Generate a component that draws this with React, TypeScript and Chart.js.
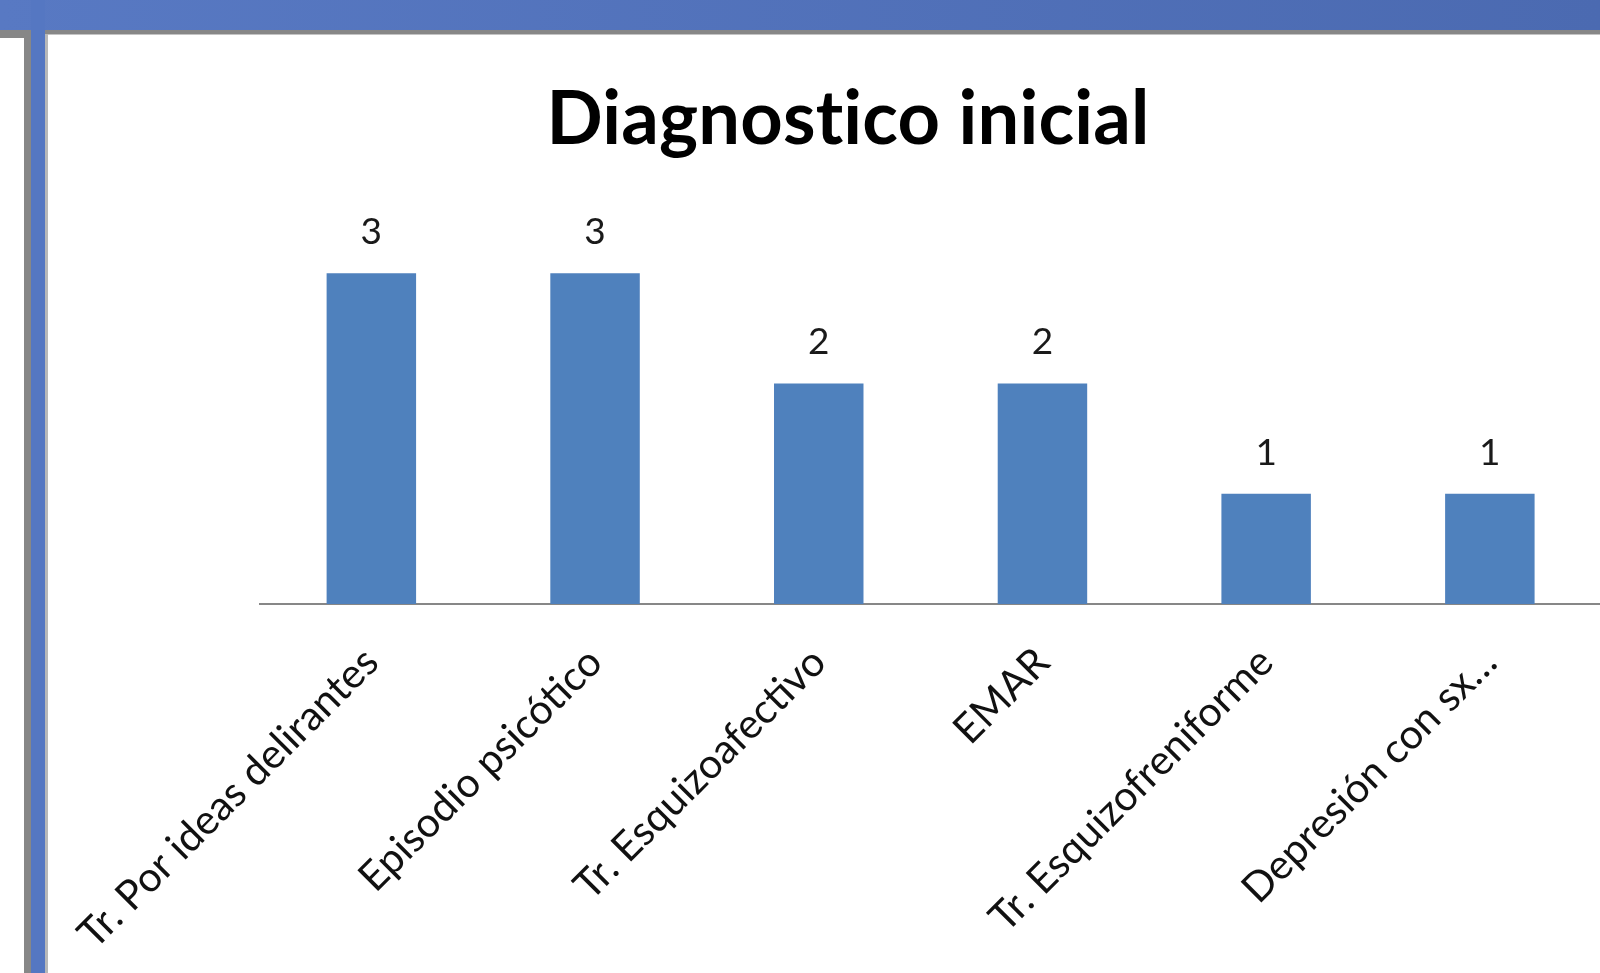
import React, { useEffect, useRef } from "react";
import { Chart, registerables } from "chart.js";

Chart.register(...registerables);

const categories: string[] = [
  "Tr. Por ideas delirantes",
  "Episodio psicótico",
  "Tr. Esquizoafectivo",
  "EMAR",
  "Tr. Esquizofreniforme",
  "Depresión con sx…",
];
const values: number[] = [3, 3, 2, 2, 1, 1];
const chartTitle = "Diagnostico inicial";

const dataLabelPlugin = {
  id: "dataLabels",
  afterDatasetsDraw(chart: any) {
    const ctx = chart.ctx;
    const meta = chart.getDatasetMeta(0);
    ctx.save();
    ctx.font = "37px Lato";
    ctx.fillStyle = "#1a1a1a";
    ctx.textAlign = "center";
    ctx.textBaseline = "alphabetic";
    meta.data.forEach((bar: any, i: number) => {
      ctx.fillText(String(chart.data.datasets[0].data[i]), bar.x, bar.y - 29);
    });
    ctx.restore();
  },
};

const titlePlugin = {
  id: "centeredTitle",
  afterDraw(chart: any) {
    const ctx = chart.ctx;
    ctx.save();
    ctx.font = "bold 74px Lato";
    ctx.fillStyle = "#000";
    ctx.textAlign = "center";
    ctx.textBaseline = "alphabetic";
    try {
      (ctx as any).letterSpacing = "0.2px";
    } catch (e) {}
    ctx.fillText(chartTitle, chart.width / 2, 108.5);
    ctx.restore();
  },
};

export default function App() {
  const canvasRef = useRef<HTMLCanvasElement | null>(null);

  useEffect(() => {
    if (!canvasRef.current) return;
    const chart = new Chart(canvasRef.current, {
      type: "bar",
      data: {
        labels: categories,
        datasets: [
          {
            data: values,
            backgroundColor: "#4F81BD",
            borderWidth: 0,
            categoryPercentage: 1,
            barPercentage: 0.4,
          },
        ],
      },
      options: {
        animation: false,
        responsive: false,
        maintainAspectRatio: false,
        layout: { padding: { left: 211.5, right: 46.3, top: 183, bottom: 0 } },
        plugins: {
          legend: { display: false },
          tooltip: { enabled: false },
          title: { display: false },
        },
        scales: {
          x: {
            grid: { display: false, drawTicks: false },
            border: { display: true, color: "#878787", width: 2 },
            ticks: {
              color: "#111",
              font: { family: "Lato", size: 41 },
              minRotation: 45,
              maxRotation: 45,
              autoSkip: false,
              padding: 34,
            },
            afterFit: (scale: any) => {
              scale.height = 369;
              scale.paddingLeft = 0;
              scale.paddingRight = 0;
            },
          },
          y: {
            display: false,
            min: 0,
            max: 3.5,
          },
        },
      },
      plugins: [dataLabelPlugin, titlePlugin],
    });
    return () => chart.destroy();
  }, []);

  return (
    <div
      style={{
        position: "fixed",
        left: 0,
        top: 0,
        width: 1600,
        height: 973,
        overflow: "hidden",
        background: "#fff",
      }}
    >
      <div style={{ position: "absolute", left: 0, top: 0, width: 1600, height: 30, background: "linear-gradient(to right, #5879C3, #4B6AB1)" }} />
      <div style={{ position: "absolute", left: 0, top: 30, width: 1600, height: 4, background: "#878787" }} />
      <div style={{ position: "absolute", left: 45, top: 34, width: 1555, height: 1, background: "#c4c4c4" }} />
      <div style={{ position: "absolute", left: 0, top: 30, width: 24, height: 8, background: "#878787" }} />
      <div style={{ position: "absolute", left: 24, top: 30, width: 7, height: 943, background: "#878787" }} />
      <div style={{ position: "absolute", left: 31, top: 0, width: 14, height: 973, background: "#5577C2" }} />
      <div style={{ position: "absolute", left: 45, top: 34, width: 3, height: 939, background: "#b8b8b8" }} />
      <canvas
        ref={canvasRef}
        width={1600}
        height={938}
        style={{ position: "absolute", left: 48, top: 35, width: 1600, height: 938 }}
      />
    </div>
  );
}
